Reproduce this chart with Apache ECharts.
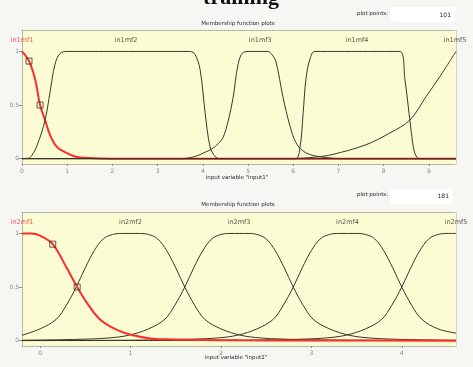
<!DOCTYPE html>
<html><head><meta charset="utf-8">
<script src="https://cdn.jsdelivr.net/npm/echarts@6/dist/echarts.min.js"></script>
<style>html,body{margin:0;padding:0;background:#f6f6f3;}#c{width:473px;height:367px;}</style>
</head><body><div id="c"></div>
<script>
// ---- data ----
const xTicks1 = [0,1,2,3,4,5,6,7,8,9];
const xTicks2 = [0,1,2,3,4];
const yTicks = [0,0.5,1];
const mfNames1 = ['in1mf1','in1mf2','in1mf3','in1mf4','in1mf5'];
const mfLabelX1 = [0,2.3,5.27,7.41,9.58];
const mfNames2 = ['in2mf1','in2mf2','in2mf3','in2mf4','in2mf5'];
const mfLabelX2 = [-0.2,1.0,2.2,3.4,4.6];

const in1mf1 = [[0,1.0],[0.155,0.91],[0.29,0.74],[0.4,0.5],[0.51,0.36],[0.62,0.22],[0.77,0.11],[0.95,0.06],[1.17,0.02],[1.5,0.005],[2.0,0],[9.6,0]];
const in1mf2 = [[0,0],[0.1,0.003],[0.177,0.01],[0.33,0.12],[0.51,0.36],[0.62,0.62],[0.73,0.88],[0.84,0.98],[1.0,1.0],[3.72,1.0],[3.83,0.97],[3.94,0.83],[4.05,0.43],[4.16,0.11],[4.27,0.02],[4.38,0],[9.6,0]];
const in1mf3 = [[0,0],[3.5,0],[3.83,0.02],[4.05,0.06],[4.2,0.09],[4.34,0.14],[4.45,0.2],[4.56,0.35],[4.67,0.57],[4.78,0.88],[4.89,0.99],[5.04,1.0],[5.44,1.0],[5.53,0.97],[5.62,0.9],[5.77,0.58],[5.93,0.3],[6.06,0.15],[6.22,0.07],[6.44,0.03],[6.73,0.01],[7.04,0],[9.6,0]];
const in1mf4 = [[0,0],[6.04,0],[6.15,0.11],[6.22,0.43],[6.28,0.74],[6.37,0.93],[6.48,1.0],[8.36,1.0],[8.47,0.74],[8.54,0.5],[8.61,0.25],[8.67,0.08],[8.74,0.01],[8.81,0],[9.6,0]];
const in1mf5 = [[0,0],[5.93,0],[6.5,0.015],[6.88,0.04],[7.61,0.13],[8.14,0.24],[8.58,0.36],[8.94,0.58],[9.25,0.77],[9.6,1.0]];
const marks1 = [[0.155,0.91],[0.4,0.5]];

const in2mf1 = [[-0.2,1.0],[-0.1,1.0],[0.0,0.98],[0.14,0.9],[0.3,0.67],[0.41,0.5],[0.52,0.35],[0.66,0.2],[0.85,0.1],[1.03,0.05],[1.22,0.02],[1.4,0.012],[1.8,0.006],[2.2,0.003],[3.0,0.001],[4.6,0]];
const in2mf2 = [[-0.2,0.05],[0.0,0.11],[0.18,0.2],[0.29,0.33],[0.4,0.5],[0.5,0.68],[0.6,0.84],[0.7,0.95],[0.8,0.99],[0.9,1.0],[1.0,1.0],[1.1,1.0],[1.2,0.99],[1.3,0.95],[1.4,0.84],[1.5,0.68],[1.6,0.5],[1.71,0.33],[1.82,0.2],[2.0,0.11],[2.22,0.05],[2.44,0.025],[2.66,0.015],[3.0,0.008],[3.4,0.004],[4.0,0.002],[4.6,0.001]];
const in2mf3 = [[-0.2,0.004],[0.2,0.008],[0.54,0.015],[0.76,0.025],[0.98,0.05],[1.2,0.11],[1.38,0.2],[1.49,0.33],[1.6,0.5],[1.7,0.68],[1.8,0.84],[1.9,0.95],[2.0,0.99],[2.1,1.0],[2.2,1.0],[2.3,1.0],[2.4,0.99],[2.5,0.95],[2.6,0.84],[2.7,0.68],[2.8,0.5],[2.91,0.33],[3.02,0.2],[3.2,0.11],[3.42,0.05],[3.64,0.025],[3.86,0.015],[4.2,0.008],[4.6,0.004]];
const in2mf4 = [[-0.2,0.001],[0.4,0.002],[1.0,0.004],[1.4,0.008],[1.74,0.015],[1.96,0.025],[2.18,0.05],[2.4,0.11],[2.58,0.2],[2.69,0.33],[2.8,0.5],[2.9,0.68],[3.0,0.84],[3.1,0.95],[3.2,0.99],[3.3,1.0],[3.4,1.0],[3.5,1.0],[3.6,0.99],[3.7,0.95],[3.8,0.84],[3.9,0.68],[4.0,0.5],[4.11,0.33],[4.22,0.2],[4.4,0.11],[4.6,0.07]];
const in2mf5 = [[-0.2,0.0005],[1.6,0.002],[2.2,0.004],[2.6,0.008],[2.94,0.015],[3.16,0.025],[3.38,0.05],[3.6,0.11],[3.78,0.2],[3.89,0.33],[4.0,0.5],[4.1,0.68],[4.2,0.84],[4.3,0.95],[4.4,0.99],[4.5,1.0],[4.6,1.0]];
const marks2 = [[0.14,0.9],[0.41,0.5]];

// ---- build chart ----
const chart = echarts.init(document.getElementById('c'), null, {renderer:'canvas'});
const dark = '#3a3628', red = '#ff2b2b', yellow = '#fcfcd4', frame = '#a8a8a0', tickCol = '#8a8a86';

function xBottom(gi, min, max, ticks){
  return {gridIndex:gi, type:'value', min:min, max:max, position:'bottom',
    axisLine:{show:true, onZero:false, lineStyle:{color:frame, type:'dotted', width:1}},
    axisTick:{show:true, customValues:ticks, length:2, lineStyle:{color:tickCol}},
    axisLabel:{show:true, customValues:ticks, fontSize:6, color:tickCol, margin:4, fontFamily:'DejaVu Sans'},
    splitLine:{show:false}};
}
function xTop(gi, min, max){
  return {gridIndex:gi, type:'value', min:min, max:max, position:'top',
    axisLine:{show:true, onZero:false, lineStyle:{color:frame, type:'dotted', width:1}},
    axisTick:{show:false}, axisLabel:{show:false}, splitLine:{show:false}};
}
function yLeft(gi){
  return {gridIndex:gi, type:'value', min:-0.05, max:1.2, position:'left',
    axisLine:{show:true, onZero:false, lineStyle:{color:frame, type:'dotted', width:1}},
    axisTick:{show:true, customValues:yTicks, length:3, lineStyle:{color:tickCol}},
    axisLabel:{show:true, customValues:yTicks, fontSize:6, color:tickCol, margin:3, fontFamily:'DejaVu Sans'},
    splitLine:{show:false}};
}
function yRight(gi){
  return {gridIndex:gi, type:'value', min:-0.05, max:1.2, position:'right',
    axisLine:{show:true, onZero:false, lineStyle:{color:'#c8c8c0', type:'dotted', width:1}},
    axisTick:{show:false}, axisLabel:{show:false}, splitLine:{show:false}};
}
function line(data, xi, yi, color, w, z){
  return {type:'line', xAxisIndex:xi, yAxisIndex:yi, data:data, showSymbol:false, symbol:'none',
    smooth:0.35, lineStyle:{color:color, width:w}, z:z, silent:true};
}
function labels(names, xs, xi, yi){
  return {type:'scatter', xAxisIndex:xi, yAxisIndex:yi, symbolSize:0, z:5, silent:true,
    data:names.map((n,i)=>({name:n, value:[xs[i],1.1],
      label:{show:true, position:'inside', formatter:'{b}', fontSize:6.5, fontFamily:'DejaVu Sans',
        color: i===0 ? red : '#2a2a22'}}))};
}
function marks(data, xi, yi){
  return {type:'scatter', xAxisIndex:xi, yAxisIndex:yi, data:data, symbol:'rect', symbolSize:6, z:6, silent:true,
    itemStyle:{color:'rgba(0,0,0,0)', borderColor:'#333', borderWidth:1}};
}

const txt = (text, x, y, size, align) => ({type:'text', silent:true,
  style:{text:text, x:x, y:y, font:size+'px "DejaVu Sans"', fill:'#2a2a2a', textAlign:align, textVerticalAlign:'middle'}});

chart.setOption({
  animation:false,
  backgroundColor:'#f6f6f3',
  grid:[
    {left:22, top:30, width:434, height:134, show:true, backgroundColor:yellow, borderWidth:0},
    {left:22, top:212, width:434, height:134, show:true, backgroundColor:yellow, borderWidth:0}
  ],
  xAxis:[xBottom(0,0,9.6,xTicks1), xTop(0,0,9.6), xBottom(1,-0.2,4.6,xTicks2), xTop(1,-0.2,4.6)],
  yAxis:[yLeft(0), yRight(0), yLeft(1), yRight(1)],
  series:[
    line(in1mf1,0,0,red,2,2),
    line(in1mf2,0,0,dark,1,3),
    line(in1mf3,0,0,dark,1,3),
    line(in1mf4,0,0,dark,1,3),
    line(in1mf5,0,0,dark,1,3),
    marks(marks1,0,0),
    labels(mfNames1, mfLabelX1, 0, 0),
    line(in2mf2,2,2,dark,1,2),
    line(in2mf3,2,2,dark,1,2),
    line(in2mf4,2,2,dark,1,2),
    line(in2mf5,2,2,dark,1,2),
    line(in2mf1,2,2,red,2,3),
    marks(marks2,2,2),
    labels(mfNames2, mfLabelX2, 2, 2)
  ],
  graphic:[
    {type:'text', silent:true, style:{text:'training', x:241, y:9, font:'bold 22px "Liberation Serif"', fill:'#111', textAlign:'center', textVerticalAlign:'bottom'}},
    {type:'rect', silent:true, shape:{x:390, y:7, width:65, height:15}, style:{fill:'#ffffff'}},
    txt('plot points:', 357, 14, 5.5, 'left'),
    txt('101', 451, 15, 6, 'right'),
    txt('Membership function plots', 238, 24, 5.5, 'center'),
    txt('input variable "input1"', 237, 178, 5.5, 'center'),
    {type:'rect', silent:true, shape:{x:390, y:189, width:63, height:15}, style:{fill:'#ffffff'}},
    txt('plot points:', 357, 195, 5.5, 'left'),
    txt('181', 449, 196, 6, 'right'),
    txt('Membership function plots', 238, 205, 5.5, 'center'),
    txt('input variable "input2"', 236, 358, 5.5, 'center')
  ]
});
</script></body></html>
